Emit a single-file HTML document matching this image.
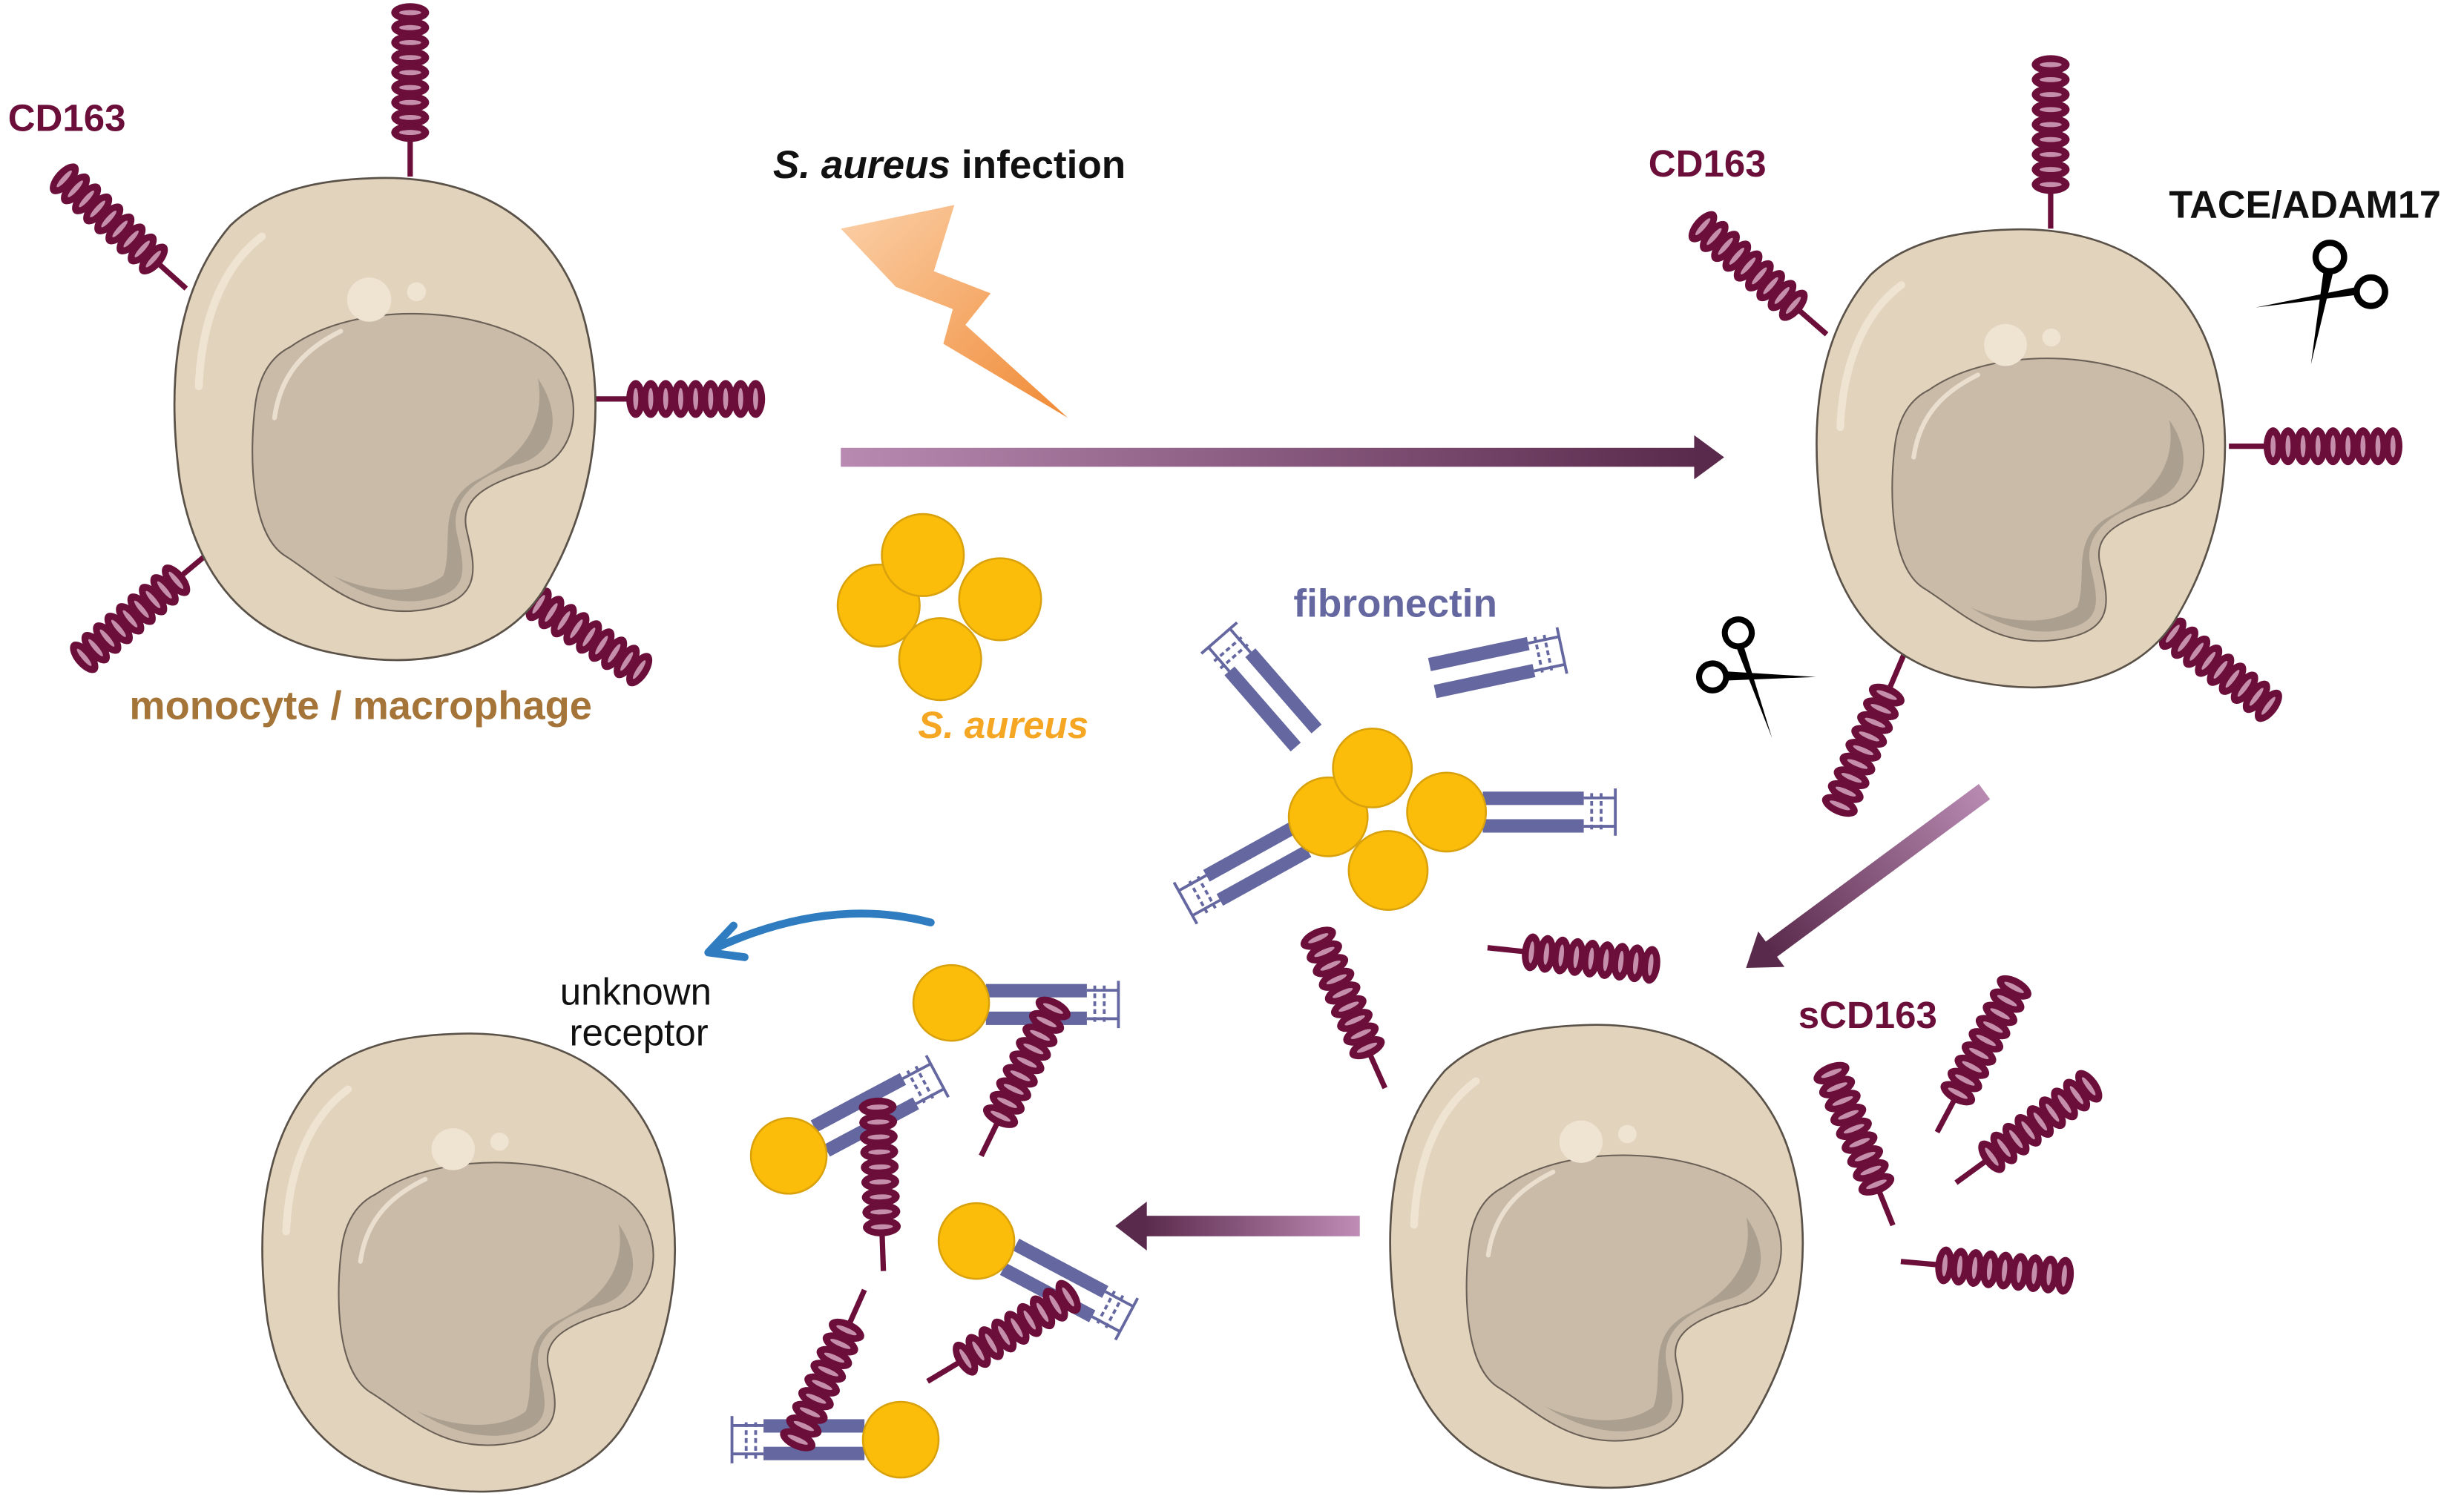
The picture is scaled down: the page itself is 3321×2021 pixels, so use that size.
<!DOCTYPE html>
<html><head><meta charset="utf-8"><style>
html,body{margin:0;padding:0;background:#fff}
svg{display:block}
text{font-family:"Liberation Sans",sans-serif;font-weight:bold}
</style></head><body>
<svg width="3321" height="2021" viewBox="0 0 1562 950.6" xmlns="http://www.w3.org/2000/svg">
<defs>
<linearGradient id="ar1" x1="0" x2="1" y1="0" y2="0"><stop offset="0" stop-color="#b88ab2"/><stop offset="1" stop-color="#5a2a4c"/></linearGradient>
<linearGradient id="ar3" x1="1" x2="0" y1="0" y2="0"><stop offset="0" stop-color="#bf8cb6"/><stop offset="1" stop-color="#5a2a4c"/></linearGradient>
<linearGradient id="bolt" x1="0" y1="0" x2="1" y2="1"><stop offset="0" stop-color="#fbd0a8"/><stop offset="1" stop-color="#f08a35"/></linearGradient>
<g id="cell">
 <path d="M -10,-152 C 60,-155 110,-120 125,-60 C 140,0 128,60 98,110 C 72,150 20,160 -30,150 C -90,140 -122,100 -132,40 C -140,-20 -136,-80 -100,-122 C -75,-146 -40,-151 -10,-152 Z" fill="#e2d3bd" stroke="#5a5248" stroke-width="1.3"/>
 <path d="M -120,-20 C -118,-70 -100,-100 -80,-115" fill="none" stroke="#efe3d2" stroke-width="5" stroke-linecap="round"/>
 <path d="M -62,-45 C -20,-75 60,-72 100,-42 C 126,-20 122,22 95,32 C 60,42 45,52 50,72 C 56,97 60,117 20,122 C -20,127 -42,102 -66,87 C -88,72 -88,20 -84,-10 C -81,-30 -72,-40 -62,-45 Z" fill="#c9bba8" stroke="#6a6056" stroke-width="1"/>
 <path d="M 95,-25 C 112,0 105,25 80,30 C 55,38 38,52 44,75 C 50,100 50,112 20,116 C 0,118 -20,110 -35,100 C -10,112 20,112 35,100 C 42,80 30,55 55,40 C 85,25 100,5 95,-25 Z" fill="#ab9f8f"/>
 <path d="M -72,0 C -68,-30 -50,-45 -30,-55" fill="none" stroke="#eadfcf" stroke-width="3" stroke-linecap="round"/>
 <circle cx="-12" cy="-75" r="14" fill="#efe3d2"/>
 <circle cx="18" cy="-80" r="6" fill="#efe3d2"/>
</g>
<g id="coil">
 <line x1="0" y1="0" x2="24" y2="0" stroke="#6b0f3a" stroke-width="3.4"/>
 <g fill="#6b0f3a">
  <ellipse cx="28" cy="0" rx="6" ry="12"/><ellipse cx="37.5" cy="0" rx="6" ry="12"/><ellipse cx="47" cy="0" rx="6" ry="12"/><ellipse cx="56.5" cy="0" rx="6" ry="12"/><ellipse cx="66" cy="0" rx="6" ry="12"/><ellipse cx="75.5" cy="0" rx="6" ry="12"/><ellipse cx="85" cy="0" rx="6" ry="12"/><ellipse cx="94.5" cy="0" rx="6" ry="12"/><ellipse cx="104" cy="0" rx="6" ry="12"/>
 </g>
 <g fill="#c58fab">
  <ellipse cx="28" cy="0" rx="1.6" ry="7"/><ellipse cx="37.5" cy="0" rx="1.6" ry="7"/><ellipse cx="47" cy="0" rx="1.6" ry="7"/><ellipse cx="56.5" cy="0" rx="1.6" ry="7"/><ellipse cx="66" cy="0" rx="1.6" ry="7"/><ellipse cx="75.5" cy="0" rx="1.6" ry="7"/><ellipse cx="85" cy="0" rx="1.6" ry="7"/><ellipse cx="94.5" cy="0" rx="1.6" ry="7"/><ellipse cx="104" cy="0" rx="1.6" ry="7"/>
 </g>
</g>
<g id="fn">
 <rect x="0" y="-13" width="64" height="8.5" fill="#6568a0"/>
 <rect x="0" y="4.5" width="64" height="8.5" fill="#6568a0"/>
 <g stroke="#6568a0" stroke-width="1.8" fill="none">
  <line x1="64" y1="-9" x2="84" y2="-9"/><line x1="64" y1="9" x2="84" y2="9"/>
  <line x1="84" y1="-15" x2="84" y2="15"/>
  <line x1="69" y1="-12" x2="69" y2="12" stroke-dasharray="3,2"/>
  <line x1="75" y1="-12" x2="75" y2="12" stroke-dasharray="3,2"/>
 </g>
</g>
<g id="sc">
 <circle cx="0" cy="-26" r="9" fill="none" stroke="#000" stroke-width="4"/>
 <circle cx="26" cy="-4" r="9" fill="none" stroke="#000" stroke-width="4"/>
 <path d="M -4,-17 L 2,-16 L -12,42 Z" fill="#000"/>
 <path d="M 17,-7 L 17,-2 L -47,6 Z" fill="#000"/>
</g>
</defs>

<!-- labels -->
<text x="5" y="83" font-size="24" fill="#6b0f3a">CD163</text>
<text x="82" y="456" font-size="25.5" fill="#a57439">monocyte / macrophage</text>
<text x="490" y="113" font-size="25" fill="#111"><tspan font-style="italic">S. aureus</tspan> infection</text>
<text x="1045" y="112" font-size="24" fill="#6b0f3a">CD163</text>
<text x="1375" y="138" font-size="24.5" fill="#111">TACE/ADAM17</text>
<text x="820" y="391" font-size="25" fill="#6568a0">fibronectin</text>
<text x="582" y="468" font-size="24" fill="#f5a623" font-style="italic">S. aureus</text>
<text x="1140" y="652" font-size="24" fill="#6b0f3a">sCD163</text>
<text x="355" y="637" font-size="24" fill="#111" style="font-weight:normal">unknown</text>
<text x="361" y="663" font-size="24" fill="#111" style="font-weight:normal">receptor</text>

<!-- lightning -->
<polygon points="533,145 605,130 592,172 628,186 612,206 677,265 598,218 604,196 568,182" fill="url(#bolt)"/>

<!-- arrows -->
<rect x="533" y="284" width="545" height="12" fill="url(#ar1)"/>
<polygon points="1074,276 1093,290 1074,304" fill="#5a2a4c"/>
<g transform="translate(1258,502) rotate(143.5)">
 <rect x="0" y="-6" width="170" height="12" fill="url(#ar1)"/>
 <polygon points="168,-14 188,0 168,14" fill="#5a2a4c"/>
</g>
<rect x="725" y="771" width="137" height="13" fill="url(#ar3)"/>
<polygon points="727,762 707,777.5 727,793" fill="#5a2a4c"/>
<path d="M590,585 Q525,568 452,602" fill="none" stroke="#2f7dc0" stroke-width="5" stroke-linecap="round"/>
<path d="M465,587 L449,604 L472,607" fill="none" stroke="#2f7dc0" stroke-width="5" stroke-linecap="round" stroke-linejoin="round"/>

<!-- cell 1 -->
<g transform="translate(260,112) rotate(-90)"><use href="#coil"/></g>
<g transform="translate(118,183) rotate(-138)"><use href="#coil"/></g>
<g transform="translate(375,253) rotate(0)"><use href="#coil"/></g>
<g transform="translate(133,350) rotate(140)"><use href="#coil"/></g>
<g transform="translate(318,368) rotate(33)"><use href="#coil"/></g>
<use href="#cell" transform="translate(246,265)"/>

<!-- cell 2 -->
<g transform="translate(1300,145) rotate(-90)"><use href="#coil"/></g>
<g transform="translate(1158,212) rotate(-139)"><use href="#coil"/></g>
<g transform="translate(1413,283) rotate(0)"><use href="#coil"/></g>
<g transform="translate(1355,385) rotate(37)"><use href="#coil"/></g>
<g transform="translate(1207,415) rotate(113)"><use href="#coil"/></g>
<use href="#cell" transform="translate(1283,290) scale(0.97,0.95)"/>
<use href="#sc" transform="translate(1477,189)"/>
<use href="#sc" transform="translate(1110,425) rotate(-100) scale(0.95)"/>

<!-- cell 3 & 4 -->
<use href="#cell" transform="translate(1014,796) scale(0.98,0.96)"/>
<use href="#cell" transform="translate(299,800) scale(0.98,0.95)"/>

<!-- S aureus top -->
<g fill="#fbbd0a" stroke="#d9a20c" stroke-width="1.2">
 <circle cx="557" cy="384" r="26"/><circle cx="585" cy="352" r="26"/><circle cx="634" cy="380" r="26"/><circle cx="596" cy="418" r="26"/>
</g>

<!-- central fibronectin cluster -->
<use href="#fn" transform="translate(828,468) rotate(-131)"/>
<use href="#fn" transform="translate(908,430) rotate(-12)"/>
<use href="#fn" transform="translate(940,515) rotate(0)"/>
<use href="#fn" transform="translate(825,532) rotate(151)"/>
<g fill="#fbbd0a" stroke="#d9a20c" stroke-width="1.2">
 <circle cx="842" cy="518" r="25"/><circle cx="870" cy="487" r="25"/><circle cx="917" cy="515" r="25"/><circle cx="880" cy="552" r="25"/>
</g>

<!-- free coils -->
<use href="#coil" transform="translate(878,690) rotate(-114)"/>
<use href="#coil" transform="translate(943,601) rotate(6)"/>
<use href="#coil" transform="translate(1200,777) rotate(-112)"/>
<use href="#coil" transform="translate(1228,718) rotate(-62)"/>
<use href="#coil" transform="translate(1240,750) rotate(-36)"/>
<use href="#coil" transform="translate(1205,800) rotate(5)"/>

<!-- bottom middle complexes -->
<use href="#fn" transform="translate(625,637) rotate(0)"/>
<use href="#fn" transform="translate(520,722) rotate(-28)"/>
<use href="#fn" transform="translate(640,797) rotate(28)"/>
<use href="#fn" transform="translate(548,913) rotate(180)"/>
<g fill="#fbbd0a" stroke="#d9a20c" stroke-width="1.2">
 <circle cx="603" cy="636" r="24"/><circle cx="500" cy="733" r="24"/><circle cx="619" cy="787" r="24"/><circle cx="571" cy="913" r="24"/>
</g>
<use href="#coil" transform="translate(622,733) rotate(-64)"/>
<use href="#coil" transform="translate(560,806) rotate(-92)"/>
<use href="#coil" transform="translate(548,818) rotate(114)"/>
<use href="#coil" transform="translate(588,876) rotate(-31)"/>
</svg>
</body></html>
